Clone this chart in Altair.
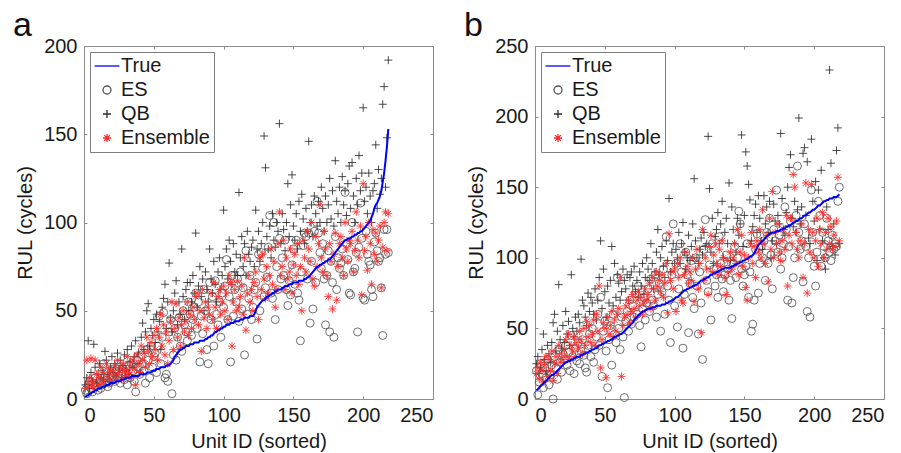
import altair as alt
import pandas as pd

# ---------------- data ----------------
true_a = [1,2,2,3,3,4,4,5,5,6,
          6,6,7,7,7,8,8,8,9,9,
          9,9,10,10,10,10,11,11,11,12,
          12,12,12,13,13,13,13,13,13,14,
          14,14,14,14,15,15,15,15,16,16,
          16,17,17,17,18,18,18,18,19,19,
          19,20,21,22,24,25,26,27,28,28,
          29,29,30,30,30,31,31,31,32,32,
          32,32,33,33,33,33,34,34,35,35,
          36,36,37,38,38,39,39,40,40,41,
          41,42,42,42,43,43,43,44,44,44,
          44,45,45,45,46,46,46,46,47,47,
          47,48,50,52,53,54,55,56,56,57,
          58,58,59,59,60,60,61,61,62,62,
          62,63,63,64,64,64,65,65,65,66,
          66,66,66,67,67,67,67,68,68,69,
          69,70,71,72,73,74,75,75,76,76,
          77,77,78,78,79,79,80,81,82,83,
          84,85,86,87,88,89,90,90,91,91,
          91,92,92,93,93,94,94,95,95,96,
          97,98,99,100,101,103,105,108,110,111,
          113,115,118,123,128,135,143,153]
es_a = [5,3,8,10,6,4,9,12,7,5,
        10,6,8,20,12,15,7,9,11,14,
        13,10,16,12,18,9,14,17,11,15,
        8,19,12,20,16,10,4,22,18,14,
        25,20,16,9,28,22,12,30,18,24,
        26,15,30,47,20,35,49,12,14,10,
        38,45,3,25,40,22,35,46,30,27,
        50,42,38,33,55,48,36,45,52,60,
        40,55,21,47,37,62,50,28,20,66,
        45,58,30,67,48,42,55,35,60,52,
        64,79,45,58,21,70,47,62,55,68,
        44,72,51,63,25,84,48,57,70,45,
        52,62,66,34,82,50,83,74,58,63,
        69,86,104,60,57,100,45,75,62,91,
        68,80,70,90,62,53,67,59,76,85,
        65,90,60,56,33,72,87,94,92,68,
        94,43,78,51,95,66,112,94,83,74,
        88,68,42,70,84,38,78,66,35,92,
        62,80,74,77,85,70,117,88,79,60,
        59,100,72,74,83,38,86,111,91,57,
        56,95,82,78,76,62,58,89,94,84,
        78,80,63,36,96,82,96,83]
qb_a = [8,12,33,6,15,10,31,18,9,14,
        20,12,16,11,27,22,14,10,18,24,
        15,20,13,26,17,22,12,19,25,16,
        28,14,21,30,18,24,33,20,26,15,
        35,43,28,38,50,54,30,40,36,45,
        32,48,38,44,28,52,57,65,40,55,
        77,46,38,50,60,67,42,55,48,85,
        58,45,62,66,50,66,55,70,60,94,
        52,64,75,58,68,50,72,62,55,85,
        68,60,78,65,55,72,80,62,70,107,
        75,85,68,90,78,65,88,72,82,70,
        117,80,92,75,88,70,95,82,78,86,
        90,75,107,85,95,78,88,100,149,131,
        92,85,98,80,105,90,86,100,95,156,
        88,105,96,84,100,122,92,110,127,98,
        90,105,85,112,95,116,102,88,108,95,
        146,100,110,92,115,105,98,112,100,120,
        108,95,115,100,110,125,102,118,98,135,
        112,105,120,100,126,110,118,104,122,132,
        108,134,115,100,125,110,138,118,128,165,
        112,120,105,128,115,100,118,122,144,108,
        130,116,125,167,177,120,148,192]
ens_a = [6,22,9,12,23,7,10,22,14,8,
         12,18,9,15,11,20,13,17,10,16,
         14,19,12,22,15,18,11,20,16,13,
         24,15,19,12,22,17,8,25,20,15,
         30,22,26,18,35,27,20,32,24,36,
         28,40,22,35,48,30,42,25,38,20,
         33,44,55,28,40,54,35,46,30,42,
         50,38,44,55,36,48,40,52,45,58,
         60,42,50,27,62,46,55,40,52,48,
         60,45,66,52,40,58,62,48,55,64,
         50,60,45,70,66,30,55,62,50,67,
         52,58,64,48,80,39,60,70,55,62,
         50,66,72,58,45,80,62,82,68,57,
         75,60,70,85,65,78,52,62,88,106,
         70,75,90,62,80,68,72,85,60,76,
         82,70,88,65,75,50,90,80,72,95,
         85,78,100,68,64,92,75,88,110,80,
         72,95,85,70,58,88,78,51,82,94,
         56,75,88,92,80,70,100,85,78,90,
         88,95,72,84,106,90,80,98,59,122,
         84,92,73,100,88,65,96,82,94,78,
         90,98,63,86,100,106,84,105]

true_b = [6,7,8,9,10,11,12,13,14,15,
          16,17,17,18,19,20,21,22,23,24,
          25,26,26,27,27,28,28,29,29,30,
          30,30,31,31,32,32,33,33,34,34,
          35,35,36,36,37,38,38,39,39,40,
          40,41,41,42,42,43,44,44,45,45,
          46,46,47,48,49,50,51,52,53,54,
          56,57,58,59,60,61,62,62,63,63,
          64,64,64,65,65,65,66,66,66,66,
          67,67,67,68,68,69,69,70,70,71,
          72,72,73,74,75,76,77,77,78,78,
          79,79,80,80,81,81,82,83,84,84,
          85,85,86,86,87,88,88,89,89,90,
          90,91,91,92,92,93,93,93,93,93,
          94,94,95,95,96,96,97,97,98,98,
          99,99,100,101,101,102,103,105,107,109,
          110,111,112,113,114,115,116,117,117,118,
          118,118,119,119,119,120,120,121,121,122,
          122,123,123,124,125,125,126,126,127,128,
          128,129,130,130,131,132,132,133,134,134,
          135,136,137,137,138,139,140,140,141,141,
          142,142,142,143,143,143,144,145]
es_b = [20,3,12,25,18,8,22,15,28,10,
        17,24,0,30,22,14,35,26,19,32,
        28,38,24,33,20,45,30,18,36,27,
        40,25,34,42,31,22,19,38,46,30,
        50,26,35,44,60,38,72,16,48,55,
        34,8,42,52,24,60,46,40,86,50,
        35,58,44,1,55,62,48,70,53,66,
        58,75,60,80,52,37,64,72,56,68,
        78,62,85,70,66,88,58,74,82,48,
        76,92,60,115,80,70,40,88,124,66,
        96,51,78,110,90,36,74,104,88,47,
        82,98,72,64,100,80,46,90,68,28,
        106,127,84,76,95,56,110,92,80,88,
        72,115,96,85,76,88,102,92,70,84,
        57,96,108,86,100,133,124,92,80,88,
        94,110,72,90,48,53,70,106,117,75,
        96,108,100,112,84,118,96,128,102,78,
        120,112,148,104,116,92,100,110,136,120,
        70,108,126,68,86,100,130,165,118,106,
        112,83,124,108,62,100,58,148,118,94,
        80,104,140,130,94,118,108,100,128,112,
        104,98,116,106,110,108,140,150]
qb_b = [25,30,18,22,35,46,28,20,38,32,
        26,40,54,60,34,48,81,42,36,52,
        40,62,46,55,38,88,50,44,58,48,
        60,54,99,70,66,58,52,75,62,72,
        68,60,78,56,70,86,112,64,92,76,
        58,80,68,84,108,66,96,72,88,82,
        70,76,92,84,78,88,70,86,90,80,
        94,76,84,72,90,80,96,74,86,100,
        92,84,110,96,78,90,104,120,88,100,
        108,94,86,112,98,142,90,104,110,96,
        106,100,118,96,110,125,104,92,100,116,
        98,108,124,156,112,100,96,106,114,102,
        118,108,110,186,149,104,128,96,115,120,
        132,110,124,140,100,118,128,110,153,98,
        136,120,110,104,128,116,124,187,108,130,
        175,165,152,141,112,122,130,138,118,144,
        128,112,106,144,124,136,118,140,100,112,
        138,126,110,130,124,188,142,120,116,132,
        150,164,173,128,122,140,118,134,199,124,
        136,174,178,130,168,114,110,184,140,126,
        154,98,148,120,162,112,100,92,136,120,
        233,167,108,124,102,176,192,110]
ens_b = [18,22,14,26,20,12,24,30,16,28,
         20,34,13,25,30,18,38,26,32,28,
         35,42,30,46,28,38,34,44,30,40,
         36,48,42,32,50,38,55,44,52,40,
         46,56,38,60,48,80,22,42,54,50,
         15,58,46,52,62,44,56,48,60,64,
         86,16,52,58,66,60,70,54,62,74,
         64,58,70,76,66,72,60,68,78,70,
         74,82,64,86,78,70,90,80,84,76,
         88,72,82,96,61,117,84,90,78,92,
         62,96,86,100,70,68,88,104,94,82,
         90,84,100,69,92,106,78,96,47,120,
         84,100,92,74,108,116,90,102,110,96,
         88,106,94,112,100,86,74,98,90,104,
         92,100,110,96,120,88,104,116,94,102,
         79,70,100,110,118,96,108,86,112,104,
         120,100,134,110,96,116,83,128,106,147,
         100,118,110,124,104,98,112,120,106,130,
         80,116,128,110,159,150,118,106,100,112,
         124,86,110,153,75,120,104,152,118,100,
         112,128,94,120,110,132,100,118,106,128,
         110,122,106,116,108,126,157,112]

for name, arr in [("true_a", true_a), ("es_a", es_a), ("qb_a", qb_a), ("ens_a", ens_a),
                  ("true_b", true_b), ("es_b", es_b), ("qb_b", qb_b), ("ens_b", ens_b)]:
    assert len(arr) == 218, (name, len(arr))

SERIES = ["True", "ES", "QB", "Ensemble"]
COLORS = ["#0000ff", "#555555", "#2b2b2b", "#ff2a2a"]
LINE_SYM = "M-3.1,0H3.1"
CROSS = "M-1,0H1M0,-1V1"
STAR = "M-1,0H1M0,-1V1M-0.72,-0.72L0.72,0.72M-0.72,0.72L0.72,-0.72"
SHAPES = [LINE_SYM, "circle", CROSS, STAR]
FONT = "Liberation Sans"
FRAME = "#8c8c8c"
X_TICKS = [0, 50, 100, 150, 200, 250]


def panel(true_v, es_v, qb_v, ens_v, ymax, label):
    units = list(range(1, len(true_v) + 1))
    rows = []
    for s, vals in [("ES", es_v), ("QB", qb_v), ("Ensemble", ens_v)]:
        for u, v in zip(units, vals):
            rows.append({"unit": u, "rul": v, "series": s})
    pts = pd.DataFrame(rows)
    line_df = pd.DataFrame({"unit": units, "rul": true_v, "series": "True"})
    y_ticks = list(range(0, ymax + 1, 50))

    legend = alt.Legend(title=None, orient="top-left", offset=6, padding=4,
                        fillColor="white", strokeColor="#7f7f7f",
                        labelFont=FONT, labelFontSize=20, labelColor="#1a1a1a",
                        symbolSize=64, symbolStrokeWidth=1.3, rowPadding=4,
                        labelOffset=4, symbolOffset=3, labelLimit=200)
    color = alt.Color("series:N", scale=alt.Scale(domain=SERIES, range=COLORS), legend=legend)
    shape = alt.Shape("series:N", scale=alt.Scale(domain=SERIES, range=SHAPES), legend=legend)
    xs = alt.Scale(domain=[0, 250], nice=False)
    ys = alt.Scale(domain=[0, ymax], nice=False)

    # main axes (labels + inward ticks on bottom / left)
    x_main = alt.X("unit:Q", scale=xs,
                   axis=alt.Axis(values=X_TICKS, title="Unit ID (sorted)", orient="bottom",
                                 domain=False, ticks=True, tickSize=3, offset=-3,
                                 tickColor=FRAME, labelPadding=6, titlePadding=6))
    y_main = alt.Y("rul:Q", scale=ys,
                   axis=alt.Axis(values=y_ticks, title="RUL (cycles)", orient="left",
                                 domain=False, ticks=True, tickSize=3, offset=-3,
                                 tickColor=FRAME, labelPadding=7, titlePadding=8))
    # mirror axes (inward ticks on top / right, no labels)
    x_top = alt.X("unit:Q", scale=xs,
                  axis=alt.Axis(values=X_TICKS, title=None, orient="top", labels=False,
                                domain=False, ticks=True, tickSize=3, offset=-3,
                                tickColor=FRAME))
    y_right = alt.Y("rul:Q", scale=ys,
                    axis=alt.Axis(values=y_ticks, title=None, orient="right", labels=False,
                                  domain=False, ticks=True, tickSize=3, offset=-3,
                                  tickColor=FRAME))

    points = alt.Chart(pts).mark_point(filled=False, size=64, strokeWidth=0.85, opacity=1).encode(
        x=x_main, y=y_main, color=color, shape=shape)
    line = alt.Chart(line_df).mark_line(strokeWidth=2).encode(x=x_top, y=y_right, color=color)
    return alt.layer(points, line).resolve_axis(x="independent", y="independent").properties(
        width=349, height=353,
        title=alt.Title(label, anchor="start", frame="group", dx=-71, dy=-1, fontSize=34,
                        font=FONT, fontWeight="normal", color="#111", offset=-8))


pa = panel(true_a, es_a, qb_a, ens_a, 200, "a")
pb = panel(true_b, es_b, qb_b, ens_b, 250, "b")

chart = alt.hconcat(pa, pb, spacing=29).resolve_scale(
    color="independent", shape="independent"
).properties(padding={"left": 4, "top": 0, "right": 0, "bottom": 0}).configure_axis(
    labelFont=FONT, labelFontSize=20, labelColor="#1a1a1a",
    titleFont=FONT, titleFontSize=20, titleFontWeight="normal", titleColor="#1a1a1a",
    grid=False
).configure_view(stroke=FRAME, strokeWidth=1)

chart.save("out.html", embed_options={"renderer": "svg", "actions": False})
